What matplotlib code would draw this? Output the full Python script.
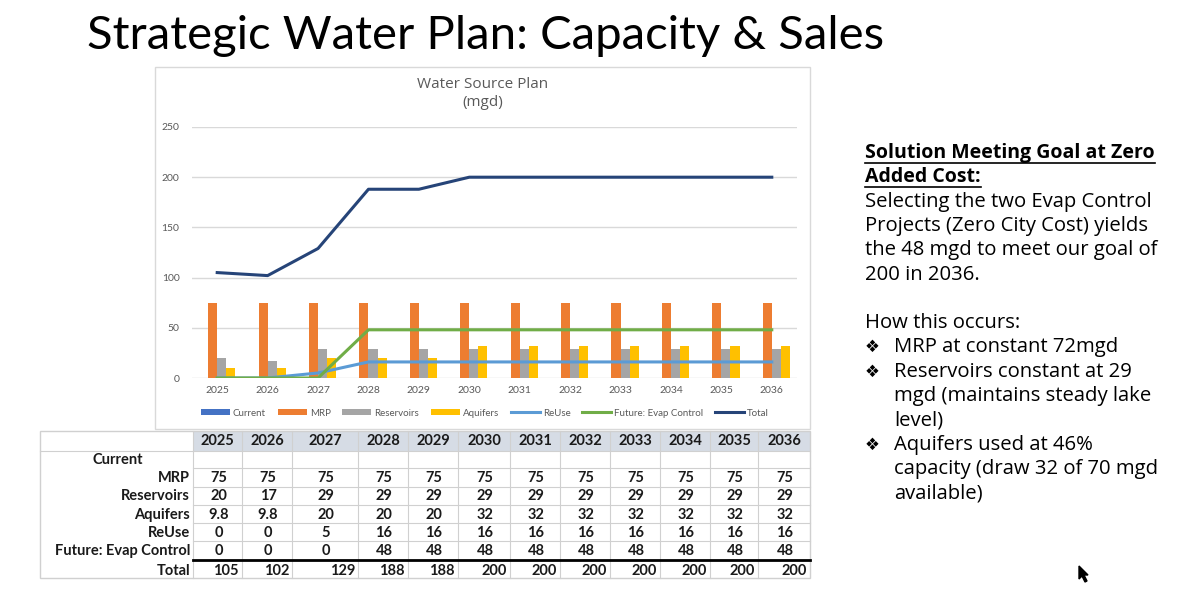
import matplotlib
matplotlib.use("Agg")
import matplotlib.pyplot as plt
import numpy as np
from matplotlib.patches import Rectangle, Polygon

# ---------------- data ----------------
years = ["2025", "2026", "2027", "2028", "2029", "2030", "2031", "2032", "2033", "2034", "2035", "2036"]
current = [0] * 12          # row is empty in the table
mrp = [75, 75, 75, 75, 75, 75, 75, 75, 75, 75, 75, 75]
reservoirs = [20, 17, 29, 29, 29, 29, 29, 29, 29, 29, 29, 29]
aquifers = [9.8, 9.8, 20, 20, 20, 32, 32, 32, 32, 32, 32, 32]
reuse = [0, 0, 5, 16, 16, 16, 16, 16, 16, 16, 16, 16]
evap = [0, 0, 0, 48, 48, 48, 48, 48, 48, 48, 48, 48]
total = [105, 102, 129, 188, 188, 200, 200, 200, 200, 200, 200, 200]

table_rows = ["Current", "MRP", "Reservoirs", "Aquifers", "ReUse", "Future: Evap Control"]
table_text = {
    "Current": [""] * 12,
    "MRP": [str(v) for v in mrp],
    "Reservoirs": [str(v) for v in reservoirs],
    "Aquifers": [str(v) for v in aquifers],
    "ReUse": [str(v) for v in reuse],
    "Future: Evap Control": [str(v) for v in evap],
}
total_text = [str(v) for v in total]

title = "Strategic Water Plan: Capacity & Sales"
chart_title = ["Water Source Plan", "(mgd)"]
side_head = ["Solution Meeting Goal at Zero", "Added Cost:"]
side_body = ["Selecting the two Evap Control", "Projects (Zero City Cost) yields",
             "the 48 mgd to meet our goal of", "200 in 2036."]
side_how = "How this occurs:"
bullets = [["MRP at constant 72mgd"],
           ["Reservoirs constant at 29", "mgd (maintains steady lake", "level)"],
           ["Aquifers used at 46%", "capacity (draw 32 of 70 mgd", "available)"]]

# ---------------- colours ----------------
C_CUR = "#4472C4"
C_MRP = "#ED7D31"
C_RES = "#A5A5A5"
C_AQ = "#FFC000"
C_REUSE = "#5B9BD5"
C_EVAP = "#70AD47"
C_TOT = "#264478"
GRAY_TXT = "#595959"

FONT = ["Lato", "DejaVu Sans"]
SIDE_FONT = ["Open Sans", "DejaVu Sans"]
plt.rcParams["font.family"] = FONT

W, H = 1200, 600
fig = plt.figure(figsize=(12, 6), dpi=100)
fig.patch.set_facecolor("white")

# overlay axes in pixel coordinates
ov = fig.add_axes([0, 0, 1, 1], zorder=0)
ov.set_xlim(0, W)
ov.set_ylim(H, 0)
ov.axis("off")

# chart box
ov.add_patch(Rectangle((155, 67), 655, 362, fill=False, ec="#D9D9D9", lw=1.0))

# ---------------- chart ----------------
def fx(px):
    return px / W

def fy(py):
    return 1 - py / H

ax = fig.add_axes([fx(192), fy(378), fx(797) - fx(192), fy(127) - fy(378)], zorder=2)
ax.patch.set_alpha(0)
x = np.arange(len(years))
bw = 0.18
ax.bar(x - 1.5 * bw, current, bw, color=C_CUR, label="Current", zorder=3)
ax.bar(x - 0.5 * bw, mrp, bw, color=C_MRP, label="MRP", zorder=3)
ax.bar(x + 0.5 * bw, reservoirs, bw, color=C_RES, label="Reservoirs", zorder=3)
ax.bar(x + 1.5 * bw, aquifers, bw, color=C_AQ, label="Aquifers", zorder=3)
ax.plot(x, reuse, color=C_REUSE, lw=2.2, label="ReUse", zorder=4)
ax.plot(x, evap, color=C_EVAP, lw=2.2, label="Future: Evap Control", zorder=5)
ax.plot(x, total, color=C_TOT, lw=2.2, label="Total", zorder=6)

ax.set_xlim(-0.5, len(years) - 0.5)
ax.set_ylim(0, 250)
ax.set_yticks([0, 50, 100, 150, 200, 250])
ax.set_xticks(x)
ax.set_xticklabels(years)
ax.tick_params(axis="both", length=0, labelsize=7.5, colors=GRAY_TXT, pad=6)
ax.tick_params(axis="y", pad=9)
for s in ax.spines.values():
    s.set_visible(False)
ax.grid(axis="y", color="#D9D9D9", lw=1.0, zorder=0)
ax.set_axisbelow(True)

fig.text(fx(483), fy(85), chart_title[0], ha="center", va="center", fontsize=11,
         color=GRAY_TXT, family=SIDE_FONT)
fig.text(fx(483), fy(103), chart_title[1], ha="center", va="center", fontsize=11,
         color=GRAY_TXT, family=SIDE_FONT)

handles, labels = ax.get_legend_handles_labels()
order = ["Current", "MRP", "Reservoirs", "Aquifers", "ReUse", "Future: Evap Control", "Total"]
hmap = dict(zip(labels, handles))
fig.legend([hmap[k] for k in order], order, loc="center", bbox_to_anchor=(fx(485), fy(413)),
           ncol=7, frameon=False, fontsize=7, handlelength=3.0, handleheight=0.5,
           columnspacing=1.2, handletextpad=0.3, labelcolor=GRAY_TXT)

# ---------------- title ----------------
fig.text(fx(486), fy(36), title, ha="center", va="center", fontsize=34, color="black")

# ---------------- table ----------------
bounds = [193, 242, 292, 358, 408, 458, 510, 560, 610, 660, 710, 758, 810]
row_lines = [431, 451, 468, 487, 505, 523, 541, 560, 578]
row_centers = [460, 478, 496, 515, 533, 551]
LINE = "#D0D0D0"
TFS = 10.5
TCOL = "#1a1a1a"

ov.add_patch(Rectangle((193, 431), 810 - 193, 20, color="#D6DCE5", lw=0, zorder=1))
ov.add_patch(Rectangle((40, 431), 770, 578 - 431, fill=False, ec=LINE, lw=1.0, zorder=2))
ov.plot([40, 193], [451, 451], color=LINE, lw=0.8, zorder=2)
for yy in row_lines[1:-1]:
    ov.plot([193, 810], [yy, yy], color=LINE, lw=0.8, zorder=2)
for xx in bounds[:-1]:
    ov.plot([xx, xx], [431, 578], color=LINE, lw=0.8, zorder=2)
ov.plot([193, 810], [560, 560], color="black", lw=2.0, zorder=3)

for i, yr in enumerate(years):
    cx = (bounds[i] + bounds[i + 1]) / 2
    ov.text(cx, 441, yr, ha="center", va="center", fontsize=TFS, fontweight="bold", color=TCOL, zorder=4)
    for r, name in enumerate(table_rows):
        ov.text(cx + 1, row_centers[r], table_text[name][i], ha="center", va="center",
                fontsize=TFS, fontweight="bold", color=TCOL, zorder=4)
    ov.text(bounds[i + 1] - 3, 571, total_text[i], ha="right", va="center",
            fontsize=TFS, fontweight="bold", color=TCOL, zorder=4)

for r, name in enumerate(table_rows):
    if name == "Current":
        ov.text(118, row_centers[r], name, ha="center", va="center", fontsize=TFS,
                fontweight="bold", color=TCOL)
    else:
        ov.text(190, row_centers[r], name, ha="right", va="center", fontsize=TFS,
                fontweight="bold", color=TCOL)
ov.text(190, 571, "Total", ha="right", va="center", fontsize=TFS, fontweight="bold", color=TCOL)

# ---------------- side text ----------------
LX = 865
LS = 24.3
SFS = 14.6
HFS = 14
y0 = 153
heads = []
for k, line in enumerate(side_head):
    t = ov.text(LX, y0 + k * LS, line, ha="left", va="center", fontsize=HFS, fontweight="bold",
                color="black", family=SIDE_FONT)
    heads.append((t, y0 + k * LS))
yy = y0 + 2 * LS
for line in side_body:
    ov.text(LX, yy, line, ha="left", va="center", fontsize=SFS, color="black", family=SIDE_FONT)
    yy += LS
yy = 323
ov.text(LX, yy, side_how, ha="left", va="center", fontsize=SFS, color="black", family=SIDE_FONT)
yy += LS
for b in bullets:
    ov.text(LX, yy, "\u2756", ha="left", va="center", fontsize=12, color="black",
            family=["DejaVu Sans"])
    for line in b:
        ov.text(LX + 29, yy, line, ha="left", va="center", fontsize=SFS, color="black", family=SIDE_FONT)
        yy += LS

# underline the heading
fig.canvas.draw()
r = fig.canvas.get_renderer()
inv = ov.transData.inverted()
for t, ty in heads:
    bb = t.get_window_extent(renderer=r)
    (x0, _), (x1, _) = inv.transform([[bb.x0, bb.y0], [bb.x1, bb.y1]])
    ov.plot([x0, x1], [ty + 10, ty + 10], color="black", lw=1.2)

# mouse cursor
ov.add_patch(Polygon([[1079, 566], [1079, 579], [1082, 576], [1085, 582], [1087, 581],
                      [1084, 575], [1088, 575]], closed=True, color="black", zorder=5))

fig.savefig("out.png", dpi=100)
